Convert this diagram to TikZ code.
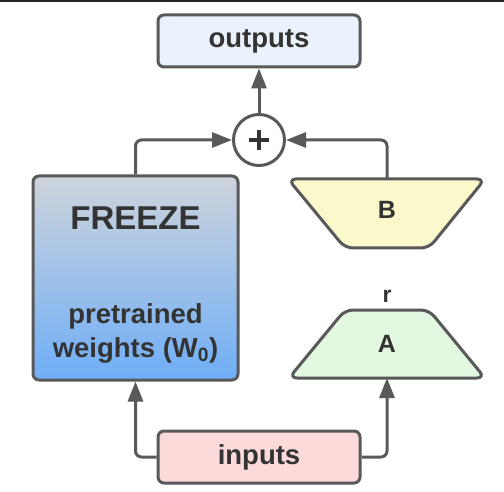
\documentclass[tikz,border=0pt]{standalone}
\usepackage{fontspec}
\setmainfont{Liberation Sans}
\usetikzlibrary{shapes,positioning,arrows.meta}
\definecolor{lineC}{HTML}{595959}
\definecolor{textC}{HTML}{333333}
\definecolor{outC}{HTML}{EAF3FD}
\definecolor{inC}{HTML}{FDDADA}
\definecolor{bC}{HTML}{FBF9CB}
\definecolor{aC}{HTML}{E2F8E1}
\definecolor{topC}{HTML}{CED4DC}
\definecolor{botC}{HTML}{6FAEF7}

\begin{document}
\begin{tikzpicture}
  [x=1pt,y=-1pt,
   boxN/.style={rectangle,rounded corners=6pt,draw=lineC,line width=3pt,
     minimum width=202pt,minimum height=52pt,text=textC,
     font=\fontsize{27.5}{30}\selectfont\bfseries},
   trapN/.style={draw=lineC,line width=3pt,rounded corners=8pt,line join=round},
   sumN/.style={circle,draw=lineC,line width=3pt,fill=white,minimum size=51pt,inner sep=0pt},
   txtN/.style={text=textC,font=\fontsize{27.5}{30}\selectfont\bfseries},
   lblN/.style={text=textC,font=\fontsize{25}{28}\selectfont\bfseries},
   arrN/.style={draw=lineC,line width=3pt,rounded corners=6pt,
     -{Triangle[length=20pt,width=15pt]}}]

  \useasboundingbox (0,0) rectangle (504,492);
  \fill[black!85] (0,0) rectangle (504,2);

  \node[boxN,fill=outC] (outputs) at (259,41) {outputs};
  \node[sumN] (plus) at (259,140) {};
  \draw[textC,line width=4pt] ([xshift=-10pt]plus.center) -- ([xshift=10pt]plus.center);
  \draw[textC,line width=4pt] ([yshift=-10pt]plus.center) -- ([yshift=10pt]plus.center);

  \node[rectangle,rounded corners=6pt,draw=lineC,line width=3pt,
    minimum width=205pt,minimum height=204pt,
    top color=topC,bottom color=botC] (freeze) at (135.5,278) {};
  \node[txtN,font=\fontsize{33}{36}\selectfont\bfseries] (frz) at (135.5,218) {FREEZE};
  \node[txtN] (pre) at (135.5,316) {pretrained};
  \node[txtN] (wts) at (135.5,350) {weights (W\textsubscript{0})};

  % B: wide on top, narrow below
  \draw[trapN,fill=bC] (288,179) -- (485,179) -- (429,248) -- (345,248) -- cycle;
  \coordinate (Btop) at (387,179);
  \node[lblN] (B) at (387,210) {B};
  \node[text=textC,font=\fontsize{23}{26}\selectfont\bfseries] (r) at (387,296) {r};
  % A: narrow on top, wide below
  \draw[trapN,fill=aC] (345,310) -- (429,310) -- (485,378) -- (289,378) -- cycle;
  \coordinate (Abot) at (387,378);
  \node[lblN] (A) at (387,344) {A};

  \node[boxN,fill=inC] (inputs) at (259,457) {inputs};

  \draw[arrN] (plus) -- (outputs);
  \draw[arrN] (freeze) |- (plus);
  \draw[arrN] (Btop) |- (plus);
  \draw[arrN] (inputs) -| (freeze);
  \draw[arrN] (inputs) -| (Abot);
\end{tikzpicture}
\end{document}
